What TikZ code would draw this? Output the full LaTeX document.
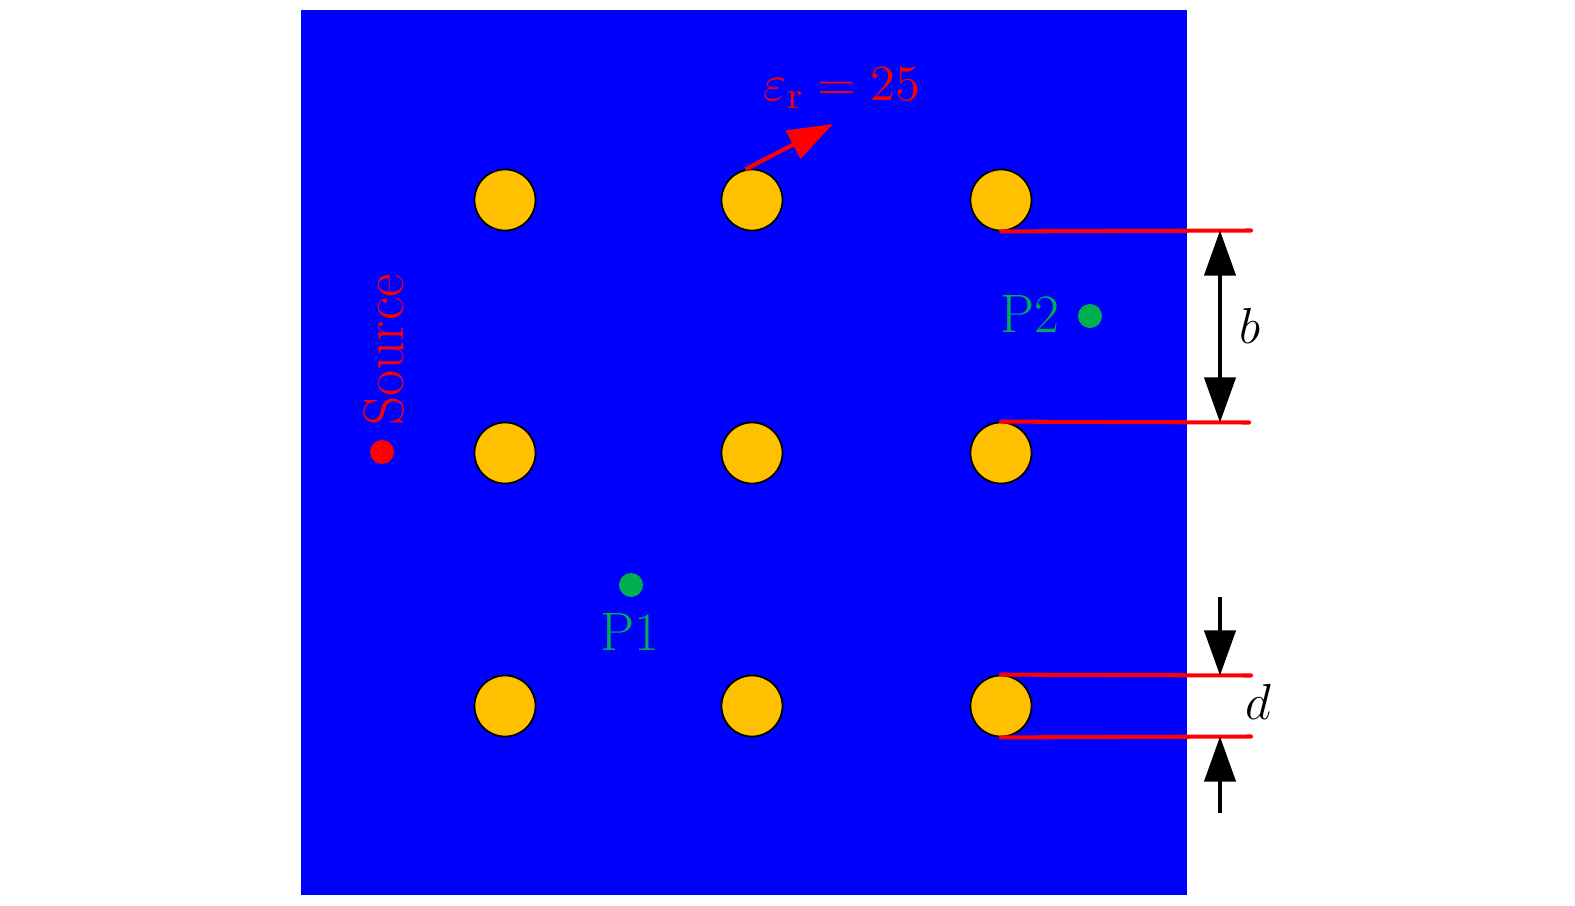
\documentclass[tikz,border=0pt]{standalone}
\usetikzlibrary{arrows.meta}
\definecolor{bgblue}{RGB}{0,0,255}
\definecolor{gold}{RGB}{255,192,0}
\definecolor{pgreen}{RGB}{0,176,80}
\begin{document}
\begin{tikzpicture}[x=0.01cm,y=-0.01cm,
  font=\fontsize{15.4}{18}\selectfont,
  rod/.style={circle,draw=black,line width=0.5pt,fill=gold,minimum size=0.61cm,inner sep=0pt},
  dotnode/.style={circle,inner sep=0pt,minimum size=0.24cm},
  redline/.style={red,line width=1.15pt,line cap=round},
  dimarrow/.style={black,line width=1.15pt,-{Triangle[length=4.5mm,width=3.1mm]}},
  dimboth/.style={black,line width=1.15pt,{Triangle[length=4.5mm,width=3.1mm]}-{Triangle[length=4.5mm,width=3.1mm]}}]
\useasboundingbox (0,0) rectangle (1575,906);
\fill[bgblue] (301,9.5) rectangle (1187,895);
% rods
\node[rod] (r11) at (505,200) {};
\node[rod] (r12) at (752,200) {};
\node[rod] (r13) at (1001,200) {};
\node[rod] (r21) at (505,453) {};
\node[rod] (r22) at (752,453) {};
\node[rod] (r23) at (1001,453) {};
\node[rod] (r31) at (505,706) {};
\node[rod] (r32) at (752,706) {};
\node[rod] (r33) at (1001,706) {};
% red guide lines
\coordinate (l1) at (1251,230.5);
\coordinate (l2) at (1249,422.5);
\coordinate (l3) at (1251,675.5);
\coordinate (l4) at (1251,736.5);
\draw[redline] (r13.south) -- (l1);
\draw[redline] (r23.north) -- (l2);
\draw[redline] (r33.north) -- (l3);
\draw[redline] (r33.south) -- (l4);
% dimension b
\coordinate (bt) at (1220,230.5);
\coordinate (bb) at (1220,422.5);
\draw[dimboth] (bt) -- (bb);
\node (blab) at (1250,326) {$b$};
% dimension d
\coordinate (dt0) at (1220,597);
\coordinate (dt) at (1220,675.5);
\coordinate (db0) at (1220,813);
\coordinate (db) at (1220,736.5);
\draw[dimarrow] (dt0) -- (dt);
\draw[dimarrow] (db0) -- (db);
\node (dlab) at (1258,702) {$d$};
% epsilon
\node[text=red] (eps) at (842,88) {$\varepsilon_{\mathrm{r}} = 25$};
\coordinate (epstip) at (833,124);
\draw[red,line width=1.15pt,-{Triangle[length=4.5mm,width=3.1mm]}] (r12.102) -- (epstip);
% source
\node[dotnode,fill=red] (src) at (382,452) {};
\node[text=red,rotate=90,font=\fontsize{16.2}{19}\selectfont] (srclab) at (384,350) {Source};
% probes
\node[dotnode,fill=pgreen] (p2) at (1090,316) {};
\node[text=pgreen] (p2lab) at (1030,314) {P2};
\node[dotnode,fill=pgreen] (p1) at (631,585) {};
\node[text=pgreen] (p1lab) at (630,632) {P1};
\end{tikzpicture}
\end{document}
